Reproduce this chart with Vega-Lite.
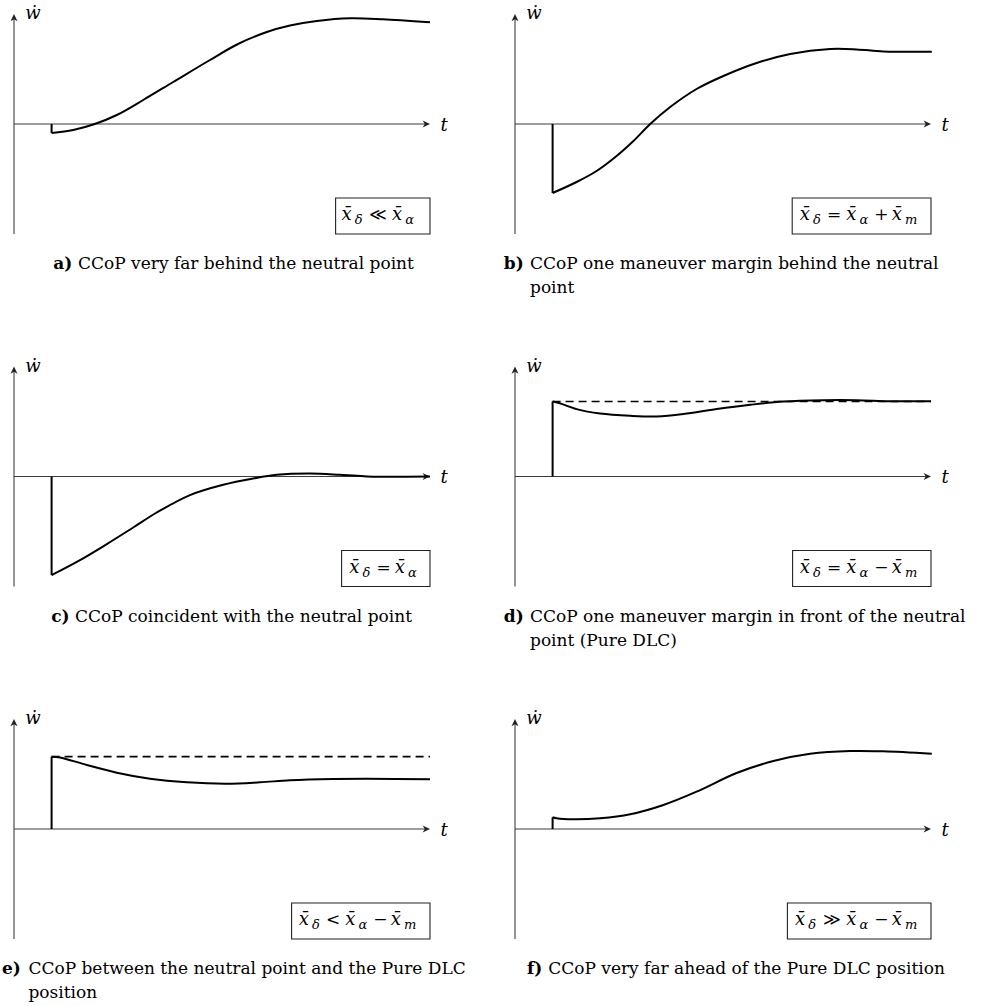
{
  "$schema": "https://vega.github.io/schema/vega-lite/v6.json",
  "padding": 0,
  "background": "white",
  "config": {"view": {"stroke": null}},
  "datasets": {
    "all": [
    {"panel":"a","kind":"axis","t":0,"t2":0,"w":-1.10,"w2":1.05},
    {"panel":"a","kind":"axis","t":0,"t2":10.3,"w":0,"w2":0},
    {"panel":"a","kind":"arrowR","t":10.225,"w":0},
    {"panel":"a","kind":"arrowU","t":0,"w":1.03},
    {"panel":"a","kind":"lab","t":0.28,"w":1.05,"text":"ẇ"},
    {"panel":"a","kind":"lab","t":10.66,"w":-0.065,"text":"t"},
    {"panel":"b","kind":"axis","t":0,"t2":0,"w":-1.10,"w2":1.05},
    {"panel":"b","kind":"axis","t":0,"t2":10.3,"w":0,"w2":0},
    {"panel":"b","kind":"arrowR","t":10.225,"w":0},
    {"panel":"b","kind":"arrowU","t":0,"w":1.03},
    {"panel":"b","kind":"lab","t":0.28,"w":1.05,"text":"ẇ"},
    {"panel":"b","kind":"lab","t":10.66,"w":-0.065,"text":"t"},
    {"panel":"c","kind":"axis","t":0,"t2":0,"w":-1.10,"w2":1.05},
    {"panel":"c","kind":"axis","t":0,"t2":10.3,"w":0,"w2":0},
    {"panel":"c","kind":"arrowR","t":10.225,"w":0},
    {"panel":"c","kind":"arrowU","t":0,"w":1.03},
    {"panel":"c","kind":"lab","t":0.28,"w":1.05,"text":"ẇ"},
    {"panel":"c","kind":"lab","t":10.66,"w":-0.065,"text":"t"},
    {"panel":"d","kind":"axis","t":0,"t2":0,"w":-1.10,"w2":1.05},
    {"panel":"d","kind":"axis","t":0,"t2":10.3,"w":0,"w2":0},
    {"panel":"d","kind":"arrowR","t":10.225,"w":0},
    {"panel":"d","kind":"arrowU","t":0,"w":1.03},
    {"panel":"d","kind":"lab","t":0.28,"w":1.05,"text":"ẇ"},
    {"panel":"d","kind":"lab","t":10.66,"w":-0.065,"text":"t"},
    {"panel":"e","kind":"axis","t":0,"t2":0,"w":-1.10,"w2":1.05},
    {"panel":"e","kind":"axis","t":0,"t2":10.3,"w":0,"w2":0},
    {"panel":"e","kind":"arrowR","t":10.225,"w":0},
    {"panel":"e","kind":"arrowU","t":0,"w":1.03},
    {"panel":"e","kind":"lab","t":0.28,"w":1.05,"text":"ẇ"},
    {"panel":"e","kind":"lab","t":10.66,"w":-0.065,"text":"t"},
    {"panel":"f","kind":"axis","t":0,"t2":0,"w":-1.10,"w2":1.05},
    {"panel":"f","kind":"axis","t":0,"t2":10.3,"w":0,"w2":0},
    {"panel":"f","kind":"arrowR","t":10.225,"w":0},
    {"panel":"f","kind":"arrowU","t":0,"w":1.03},
    {"panel":"f","kind":"lab","t":0.28,"w":1.05,"text":"ẇ"},
    {"panel":"f","kind":"lab","t":10.66,"w":-0.065,"text":"t"},

    {"panel":"a","kind":"jump","t":0.94,"w":0,"w2":-0.09},
    {"panel":"b","kind":"jump","t":0.94,"w":0,"w2":-0.69},
    {"panel":"c","kind":"jump","t":0.94,"w":0,"w2":-0.986},
    {"panel":"d","kind":"jump","t":0.94,"w":0,"w2":0.75},
    {"panel":"e","kind":"jump","t":0.94,"w":0,"w2":0.723},
    {"panel":"f","kind":"jump","t":0.94,"w":0,"w2":0.117},

    {"panel":"d","kind":"dash","t":0.94,"t2":10.4,"w":0.75},
    {"panel":"e","kind":"dash","t":0.94,"t2":10.4,"w":0.723},

    {"panel":"a","kind":"curve","i":1,"t":0.94,"w":-0.09},
    {"panel":"a","kind":"curve","i":2,"t":1.48,"w":-0.06},
    {"panel":"a","kind":"curve","i":3,"t":2.02,"w":0.0},
    {"panel":"a","kind":"curve","i":4,"t":2.57,"w":0.09},
    {"panel":"a","kind":"curve","i":5,"t":3.23,"w":0.24},
    {"panel":"a","kind":"curve","i":6,"t":3.98,"w":0.42},
    {"panel":"a","kind":"curve","i":7,"t":4.9,"w":0.64},
    {"panel":"a","kind":"curve","i":8,"t":5.6,"w":0.8},
    {"panel":"a","kind":"curve","i":9,"t":6.32,"w":0.92},
    {"panel":"a","kind":"curve","i":10,"t":6.9,"w":0.985},
    {"panel":"a","kind":"curve","i":11,"t":7.57,"w":1.03},
    {"panel":"a","kind":"curve","i":12,"t":8.4,"w":1.057},
    {"panel":"a","kind":"curve","i":13,"t":9.23,"w":1.047},
    {"panel":"a","kind":"curve","i":14,"t":10.4,"w":1.017},

    {"panel":"b","kind":"curve","i":1,"t":0.94,"w":-0.69},
    {"panel":"b","kind":"curve","i":2,"t":1.54,"w":-0.58},
    {"panel":"b","kind":"curve","i":3,"t":2.04,"w":-0.47},
    {"panel":"b","kind":"curve","i":4,"t":2.54,"w":-0.32},
    {"panel":"b","kind":"curve","i":5,"t":2.96,"w":-0.17},
    {"panel":"b","kind":"curve","i":6,"t":3.38,"w":0.0},
    {"panel":"b","kind":"curve","i":7,"t":3.88,"w":0.17},
    {"panel":"b","kind":"curve","i":8,"t":4.54,"w":0.35},
    {"panel":"b","kind":"curve","i":9,"t":5.21,"w":0.48},
    {"panel":"b","kind":"curve","i":10,"t":6.04,"w":0.61},
    {"panel":"b","kind":"curve","i":11,"t":6.88,"w":0.70},
    {"panel":"b","kind":"curve","i":12,"t":7.88,"w":0.75},
    {"panel":"b","kind":"curve","i":13,"t":8.54,"w":0.746},
    {"panel":"b","kind":"curve","i":14,"t":9.21,"w":0.726},
    {"panel":"b","kind":"curve","i":15,"t":10.42,"w":0.723},

    {"panel":"c","kind":"curve","i":1,"t":0.94,"w":-0.986},
    {"panel":"c","kind":"curve","i":2,"t":1.65,"w":-0.836},
    {"panel":"c","kind":"curve","i":3,"t":2.32,"w":-0.676},
    {"panel":"c","kind":"curve","i":4,"t":2.98,"w":-0.51},
    {"panel":"c","kind":"curve","i":5,"t":3.57,"w":-0.36},
    {"panel":"c","kind":"curve","i":6,"t":4.4,"w":-0.186},
    {"panel":"c","kind":"curve","i":7,"t":5.23,"w":-0.083},
    {"panel":"c","kind":"curve","i":8,"t":5.98,"w":-0.02},
    {"panel":"c","kind":"curve","i":9,"t":6.57,"w":0.017},
    {"panel":"c","kind":"curve","i":10,"t":7.4,"w":0.03},
    {"panel":"c","kind":"curve","i":11,"t":8.15,"w":0.017},
    {"panel":"c","kind":"curve","i":12,"t":8.82,"w":0.0},
    {"panel":"c","kind":"curve","i":13,"t":9.23,"w":-0.003},
    {"panel":"c","kind":"curve","i":14,"t":10.4,"w":0.0},

    {"panel":"d","kind":"curve","i":1,"t":0.94,"w":0.75},
    {"panel":"d","kind":"curve","i":2,"t":1.1,"w":0.735},
    {"panel":"d","kind":"curve","i":3,"t":1.54,"w":0.674},
    {"panel":"d","kind":"curve","i":4,"t":2.13,"w":0.63},
    {"panel":"d","kind":"curve","i":5,"t":2.88,"w":0.607},
    {"panel":"d","kind":"curve","i":6,"t":3.54,"w":0.60},
    {"panel":"d","kind":"curve","i":7,"t":4.21,"w":0.624},
    {"panel":"d","kind":"curve","i":8,"t":5.04,"w":0.674},
    {"panel":"d","kind":"curve","i":9,"t":5.88,"w":0.717},
    {"panel":"d","kind":"curve","i":10,"t":6.71,"w":0.75},
    {"panel":"d","kind":"curve","i":11,"t":7.71,"w":0.763},
    {"panel":"d","kind":"curve","i":12,"t":8.54,"w":0.763},
    {"panel":"d","kind":"curve","i":13,"t":9.38,"w":0.753},
    {"panel":"d","kind":"curve","i":14,"t":10.4,"w":0.753},

    {"panel":"e","kind":"curve","i":1,"t":0.94,"w":0.723},
    {"panel":"e","kind":"curve","i":2,"t":1.15,"w":0.716},
    {"panel":"e","kind":"curve","i":3,"t":1.82,"w":0.64},
    {"panel":"e","kind":"curve","i":4,"t":2.57,"w":0.563},
    {"panel":"e","kind":"curve","i":5,"t":3.4,"w":0.503},
    {"panel":"e","kind":"curve","i":6,"t":4.32,"w":0.467},
    {"panel":"e","kind":"curve","i":7,"t":5.32,"w":0.453},
    {"panel":"e","kind":"curve","i":8,"t":6.15,"w":0.467},
    {"panel":"e","kind":"curve","i":9,"t":6.9,"w":0.487},
    {"panel":"e","kind":"curve","i":10,"t":7.98,"w":0.50},
    {"panel":"e","kind":"curve","i":11,"t":8.82,"w":0.503},
    {"panel":"e","kind":"curve","i":12,"t":10.4,"w":0.497},

    {"panel":"f","kind":"curve","i":1,"t":0.94,"w":0.117},
    {"panel":"f","kind":"curve","i":2,"t":1.04,"w":0.107},
    {"panel":"f","kind":"curve","i":3,"t":1.46,"w":0.097},
    {"panel":"f","kind":"curve","i":4,"t":2.13,"w":0.107},
    {"panel":"f","kind":"curve","i":5,"t":2.88,"w":0.147},
    {"panel":"f","kind":"curve","i":6,"t":3.71,"w":0.24},
    {"panel":"f","kind":"curve","i":7,"t":4.54,"w":0.373},
    {"panel":"f","kind":"curve","i":8,"t":5.54,"w":0.56},
    {"panel":"f","kind":"curve","i":9,"t":6.46,"w":0.68},
    {"panel":"f","kind":"curve","i":10,"t":7.38,"w":0.752},
    {"panel":"f","kind":"curve","i":11,"t":8.38,"w":0.78},
    {"panel":"f","kind":"curve","i":12,"t":9.21,"w":0.777},
    {"panel":"f","kind":"curve","i":13,"t":10.42,"w":0.753},

    {"panel":"a","kind":"box","t":8.04,"t2":10.4,"w":-0.74,"w2":-1.10},
    {"panel":"b","kind":"box","t":6.93,"t2":10.4,"w":-0.74,"w2":-1.10},
    {"panel":"c","kind":"box","t":8.19,"t2":10.4,"w":-0.74,"w2":-1.10},
    {"panel":"d","kind":"box","t":6.94,"t2":10.4,"w":-0.74,"w2":-1.10},
    {"panel":"e","kind":"box","t":6.94,"t2":10.4,"w":-0.74,"w2":-1.10},
    {"panel":"f","kind":"box","t":6.81,"t2":10.4,"w":-0.74,"w2":-1.10},

    {"panel":"a","kind":"mi","t":8.19,"w":-0.96,"text":"x\u0304"},
    {"panel":"a","kind":"ms","t":8.52,"w":-1.0,"text":"δ"},
    {"panel":"a","kind":"mo","t":8.88,"w":-0.96,"text":"≪"},
    {"panel":"a","kind":"mi","t":9.45,"w":-0.96,"text":"x\u0304"},
    {"panel":"a","kind":"ms","t":9.78,"w":-1.0,"text":"α"},

    {"panel":"b","kind":"mi","t":7.12,"w":-0.96,"text":"x\u0304"},
    {"panel":"b","kind":"ms","t":7.45,"w":-1.0,"text":"δ"},
    {"panel":"b","kind":"mo","t":7.8,"w":-0.96,"text":"="},
    {"panel":"b","kind":"mi","t":8.28,"w":-0.96,"text":"x\u0304"},
    {"panel":"b","kind":"ms","t":8.61,"w":-1.0,"text":"α"},
    {"panel":"b","kind":"mo","t":8.98,"w":-0.96,"text":"+"},
    {"panel":"b","kind":"mi","t":9.42,"w":-0.96,"text":"x\u0304"},
    {"panel":"b","kind":"ms","t":9.75,"w":-1.0,"text":"m"},

    {"panel":"c","kind":"mi","t":8.38,"w":-0.96,"text":"x\u0304"},
    {"panel":"c","kind":"ms","t":8.71,"w":-1.0,"text":"δ"},
    {"panel":"c","kind":"mo","t":9.06,"w":-0.96,"text":"="},
    {"panel":"c","kind":"mi","t":9.52,"w":-0.96,"text":"x\u0304"},
    {"panel":"c","kind":"ms","t":9.85,"w":-1.0,"text":"α"},

    {"panel":"d","kind":"mi","t":7.12,"w":-0.96,"text":"x\u0304"},
    {"panel":"d","kind":"ms","t":7.45,"w":-1.0,"text":"δ"},
    {"panel":"d","kind":"mo","t":7.8,"w":-0.96,"text":"="},
    {"panel":"d","kind":"mi","t":8.28,"w":-0.96,"text":"x\u0304"},
    {"panel":"d","kind":"ms","t":8.61,"w":-1.0,"text":"α"},
    {"panel":"d","kind":"mo","t":8.98,"w":-0.96,"text":"−"},
    {"panel":"d","kind":"mi","t":9.42,"w":-0.96,"text":"x\u0304"},
    {"panel":"d","kind":"ms","t":9.75,"w":-1.0,"text":"m"},

    {"panel":"e","kind":"mi","t":7.12,"w":-0.96,"text":"x\u0304"},
    {"panel":"e","kind":"ms","t":7.45,"w":-1.0,"text":"δ"},
    {"panel":"e","kind":"mo","t":7.8,"w":-0.96,"text":"<"},
    {"panel":"e","kind":"mi","t":8.28,"w":-0.96,"text":"x\u0304"},
    {"panel":"e","kind":"ms","t":8.61,"w":-1.0,"text":"α"},
    {"panel":"e","kind":"mo","t":8.98,"w":-0.96,"text":"−"},
    {"panel":"e","kind":"mi","t":9.42,"w":-0.96,"text":"x\u0304"},
    {"panel":"e","kind":"ms","t":9.75,"w":-1.0,"text":"m"},

    {"panel":"f","kind":"mi","t":7.0,"w":-0.96,"text":"x\u0304"},
    {"panel":"f","kind":"ms","t":7.33,"w":-1.0,"text":"δ"},
    {"panel":"f","kind":"mo","t":7.7,"w":-0.96,"text":"≫"},
    {"panel":"f","kind":"mi","t":8.28,"w":-0.96,"text":"x\u0304"},
    {"panel":"f","kind":"ms","t":8.61,"w":-1.0,"text":"α"},
    {"panel":"f","kind":"mo","t":8.98,"w":-0.96,"text":"−"},
    {"panel":"f","kind":"mi","t":9.42,"w":-0.96,"text":"x\u0304"},
    {"panel":"f","kind":"ms","t":9.75,"w":-1.0,"text":"m"},

    {"panel":"a","kind":"capb","t":0.98,"w":-1.45,"text":"a)"},
    {"panel":"a","kind":"cap","t":1.6,"w":-1.45,"text":"CCoP very far behind the neutral point"},
    {"panel":"b","kind":"capb","t":-0.28,"w":-1.45,"text":"b)"},
    {"panel":"b","kind":"cap","t":0.375,"w":-1.45,"text":"CCoP one maneuver margin behind the neutral"},
    {"panel":"b","kind":"cap","t":0.375,"w":-1.69,"text":"point"},
    {"panel":"c","kind":"capb","t":0.93,"w":-1.45,"text":"c)"},
    {"panel":"c","kind":"cap","t":1.525,"w":-1.45,"text":"CCoP coincident with the neutral point"},
    {"panel":"d","kind":"capb","t":-0.28,"w":-1.45,"text":"d)"},
    {"panel":"d","kind":"cap","t":0.375,"w":-1.45,"text":"CCoP one maneuver margin in front of the neutral"},
    {"panel":"d","kind":"cap","t":0.375,"w":-1.69,"text":"point (Pure DLC)"},
    {"panel":"e","kind":"capb","t":-0.3,"w":-1.45,"text":"e)"},
    {"panel":"e","kind":"cap","t":0.36,"w":-1.45,"text":"CCoP between the neutral point and the Pure DLC"},
    {"panel":"e","kind":"cap","t":0.36,"w":-1.69,"text":"position"},
    {"panel":"f","kind":"capb","t":0.3,"w":-1.45,"text":"f)"},
    {"panel":"f","kind":"cap","t":0.83,"w":-1.45,"text":"CCoP very far ahead of the Pure DLC position"}
    ]
  },
  "data": {"name": "all"},
  "columns": 2,
  "spacing": {"row": 52.5, "column": 21},
  "concat": [
    {"transform": [{"filter": "datum.panel === 'a'"}], "width": 480, "height": 300,
     "encoding": {
      "x": {"field": "t", "type": "quantitative", "axis": null, "scale": {"domain": [-0.35, 11.65], "nice": false, "zero": false}},
      "y": {"field": "w", "type": "quantitative", "axis": null, "scale": {"domain": [-1.76, 1.24], "nice": false, "zero": false}}},
     "layer": [
      {"transform": [{"filter": "datum.kind === 'axis'"}], "mark": {"type": "rule", "color": "#3c3c3c", "strokeWidth": 1.1}, "encoding": {"x2": {"field": "t2"}, "y2": {"field": "w2"}}},
      {"transform": [{"filter": "datum.kind === 'arrowR'"}], "mark": {"type": "point", "shape": "M1,0 L-0.05,-0.5 L0.25,0 L-0.05,0.5 Z", "size": 196, "filled": true, "color": "#222", "opacity": 1, "strokeWidth": 0}},
      {"transform": [{"filter": "datum.kind === 'arrowU'"}], "mark": {"type": "point", "shape": "M0,-1 L-0.5,0.05 L0,-0.25 L0.5,0.05 Z", "size": 196, "filled": true, "color": "#222", "opacity": 1, "strokeWidth": 0}},
      {"transform": [{"filter": "datum.kind === 'dash'"}], "mark": {"type": "rule", "color": "black", "strokeWidth": 1.7, "strokeDash": [8, 5]}, "encoding": {"x2": {"field": "t2"}}},
      {"transform": [{"filter": "datum.kind === 'jump'"}], "mark": {"type": "rule", "color": "black", "strokeWidth": 2}, "encoding": {"y2": {"field": "w2"}}},
      {"transform": [{"filter": "datum.kind === 'curve'"}], "mark": {"type": "line", "color": "black", "strokeWidth": 2, "interpolate": "catmull-rom"}, "encoding": {"order": {"field": "i", "type": "quantitative"}}},
      {"transform": [{"filter": "datum.kind === 'box'"}], "mark": {"type": "rect", "fill": "white", "stroke": "#222", "strokeWidth": 1.1}, "encoding": {"x2": {"field": "t2"}, "y2": {"field": "w2"}}},
      {"transform": [{"filter": "datum.kind === 'mi'"}], "mark": {"type": "text", "align": "left", "baseline": "alphabetic", "font": "DejaVu Serif", "fontStyle": "italic", "fontSize": 18, "color": "black"}, "encoding": {"text": {"field": "text"}}},
      {"transform": [{"filter": "datum.kind === 'ms'"}], "mark": {"type": "text", "align": "left", "baseline": "alphabetic", "font": "DejaVu Serif", "fontStyle": "italic", "fontSize": 13, "color": "black"}, "encoding": {"text": {"field": "text"}}},
      {"transform": [{"filter": "datum.kind === 'mo'"}], "mark": {"type": "text", "align": "left", "baseline": "alphabetic", "font": "DejaVu Serif", "fontSize": 17, "color": "black"}, "encoding": {"text": {"field": "text"}}},
      {"transform": [{"filter": "datum.kind === 'lab'"}], "mark": {"type": "text", "align": "left", "baseline": "alphabetic", "font": "DejaVu Serif", "fontStyle": "italic", "fontSize": 18, "color": "black"}, "encoding": {"text": {"field": "text"}}},
      {"transform": [{"filter": "datum.kind === 'capb'"}], "mark": {"type": "text", "align": "left", "baseline": "alphabetic", "font": "DejaVu Serif", "fontWeight": "bold", "fontSize": 17, "color": "black"}, "encoding": {"text": {"field": "text"}}},
      {"transform": [{"filter": "datum.kind === 'cap'"}], "mark": {"type": "text", "align": "left", "baseline": "alphabetic", "font": "DejaVu Serif", "fontSize": 17, "color": "black"}, "encoding": {"text": {"field": "text"}}}
     ]},
    {"transform": [{"filter": "datum.panel === 'b'"}], "width": 480, "height": 300,
     "encoding": {
      "x": {"field": "t", "type": "quantitative", "axis": null, "scale": {"domain": [-0.35, 11.65], "nice": false, "zero": false}},
      "y": {"field": "w", "type": "quantitative", "axis": null, "scale": {"domain": [-1.76, 1.24], "nice": false, "zero": false}}},
     "layer": [
      {"transform": [{"filter": "datum.kind === 'axis'"}], "mark": {"type": "rule", "color": "#3c3c3c", "strokeWidth": 1.1}, "encoding": {"x2": {"field": "t2"}, "y2": {"field": "w2"}}},
      {"transform": [{"filter": "datum.kind === 'arrowR'"}], "mark": {"type": "point", "shape": "M1,0 L-0.05,-0.5 L0.25,0 L-0.05,0.5 Z", "size": 196, "filled": true, "color": "#222", "opacity": 1, "strokeWidth": 0}},
      {"transform": [{"filter": "datum.kind === 'arrowU'"}], "mark": {"type": "point", "shape": "M0,-1 L-0.5,0.05 L0,-0.25 L0.5,0.05 Z", "size": 196, "filled": true, "color": "#222", "opacity": 1, "strokeWidth": 0}},
      {"transform": [{"filter": "datum.kind === 'dash'"}], "mark": {"type": "rule", "color": "black", "strokeWidth": 1.7, "strokeDash": [8, 5]}, "encoding": {"x2": {"field": "t2"}}},
      {"transform": [{"filter": "datum.kind === 'jump'"}], "mark": {"type": "rule", "color": "black", "strokeWidth": 2}, "encoding": {"y2": {"field": "w2"}}},
      {"transform": [{"filter": "datum.kind === 'curve'"}], "mark": {"type": "line", "color": "black", "strokeWidth": 2, "interpolate": "catmull-rom"}, "encoding": {"order": {"field": "i", "type": "quantitative"}}},
      {"transform": [{"filter": "datum.kind === 'box'"}], "mark": {"type": "rect", "fill": "white", "stroke": "#222", "strokeWidth": 1.1}, "encoding": {"x2": {"field": "t2"}, "y2": {"field": "w2"}}},
      {"transform": [{"filter": "datum.kind === 'mi'"}], "mark": {"type": "text", "align": "left", "baseline": "alphabetic", "font": "DejaVu Serif", "fontStyle": "italic", "fontSize": 18, "color": "black"}, "encoding": {"text": {"field": "text"}}},
      {"transform": [{"filter": "datum.kind === 'ms'"}], "mark": {"type": "text", "align": "left", "baseline": "alphabetic", "font": "DejaVu Serif", "fontStyle": "italic", "fontSize": 13, "color": "black"}, "encoding": {"text": {"field": "text"}}},
      {"transform": [{"filter": "datum.kind === 'mo'"}], "mark": {"type": "text", "align": "left", "baseline": "alphabetic", "font": "DejaVu Serif", "fontSize": 17, "color": "black"}, "encoding": {"text": {"field": "text"}}},
      {"transform": [{"filter": "datum.kind === 'lab'"}], "mark": {"type": "text", "align": "left", "baseline": "alphabetic", "font": "DejaVu Serif", "fontStyle": "italic", "fontSize": 18, "color": "black"}, "encoding": {"text": {"field": "text"}}},
      {"transform": [{"filter": "datum.kind === 'capb'"}], "mark": {"type": "text", "align": "left", "baseline": "alphabetic", "font": "DejaVu Serif", "fontWeight": "bold", "fontSize": 17, "color": "black"}, "encoding": {"text": {"field": "text"}}},
      {"transform": [{"filter": "datum.kind === 'cap'"}], "mark": {"type": "text", "align": "left", "baseline": "alphabetic", "font": "DejaVu Serif", "fontSize": 17, "color": "black"}, "encoding": {"text": {"field": "text"}}}
     ]},
    {"transform": [{"filter": "datum.panel === 'c'"}], "width": 480, "height": 300,
     "encoding": {
      "x": {"field": "t", "type": "quantitative", "axis": null, "scale": {"domain": [-0.35, 11.65], "nice": false, "zero": false}},
      "y": {"field": "w", "type": "quantitative", "axis": null, "scale": {"domain": [-1.76, 1.24], "nice": false, "zero": false}}},
     "layer": [
      {"transform": [{"filter": "datum.kind === 'axis'"}], "mark": {"type": "rule", "color": "#3c3c3c", "strokeWidth": 1.1}, "encoding": {"x2": {"field": "t2"}, "y2": {"field": "w2"}}},
      {"transform": [{"filter": "datum.kind === 'arrowR'"}], "mark": {"type": "point", "shape": "M1,0 L-0.05,-0.5 L0.25,0 L-0.05,0.5 Z", "size": 196, "filled": true, "color": "#222", "opacity": 1, "strokeWidth": 0}},
      {"transform": [{"filter": "datum.kind === 'arrowU'"}], "mark": {"type": "point", "shape": "M0,-1 L-0.5,0.05 L0,-0.25 L0.5,0.05 Z", "size": 196, "filled": true, "color": "#222", "opacity": 1, "strokeWidth": 0}},
      {"transform": [{"filter": "datum.kind === 'dash'"}], "mark": {"type": "rule", "color": "black", "strokeWidth": 1.7, "strokeDash": [8, 5]}, "encoding": {"x2": {"field": "t2"}}},
      {"transform": [{"filter": "datum.kind === 'jump'"}], "mark": {"type": "rule", "color": "black", "strokeWidth": 2}, "encoding": {"y2": {"field": "w2"}}},
      {"transform": [{"filter": "datum.kind === 'curve'"}], "mark": {"type": "line", "color": "black", "strokeWidth": 2, "interpolate": "catmull-rom"}, "encoding": {"order": {"field": "i", "type": "quantitative"}}},
      {"transform": [{"filter": "datum.kind === 'box'"}], "mark": {"type": "rect", "fill": "white", "stroke": "#222", "strokeWidth": 1.1}, "encoding": {"x2": {"field": "t2"}, "y2": {"field": "w2"}}},
      {"transform": [{"filter": "datum.kind === 'mi'"}], "mark": {"type": "text", "align": "left", "baseline": "alphabetic", "font": "DejaVu Serif", "fontStyle": "italic", "fontSize": 18, "color": "black"}, "encoding": {"text": {"field": "text"}}},
      {"transform": [{"filter": "datum.kind === 'ms'"}], "mark": {"type": "text", "align": "left", "baseline": "alphabetic", "font": "DejaVu Serif", "fontStyle": "italic", "fontSize": 13, "color": "black"}, "encoding": {"text": {"field": "text"}}},
      {"transform": [{"filter": "datum.kind === 'mo'"}], "mark": {"type": "text", "align": "left", "baseline": "alphabetic", "font": "DejaVu Serif", "fontSize": 17, "color": "black"}, "encoding": {"text": {"field": "text"}}},
      {"transform": [{"filter": "datum.kind === 'lab'"}], "mark": {"type": "text", "align": "left", "baseline": "alphabetic", "font": "DejaVu Serif", "fontStyle": "italic", "fontSize": 18, "color": "black"}, "encoding": {"text": {"field": "text"}}},
      {"transform": [{"filter": "datum.kind === 'capb'"}], "mark": {"type": "text", "align": "left", "baseline": "alphabetic", "font": "DejaVu Serif", "fontWeight": "bold", "fontSize": 17, "color": "black"}, "encoding": {"text": {"field": "text"}}},
      {"transform": [{"filter": "datum.kind === 'cap'"}], "mark": {"type": "text", "align": "left", "baseline": "alphabetic", "font": "DejaVu Serif", "fontSize": 17, "color": "black"}, "encoding": {"text": {"field": "text"}}}
     ]},
    {"transform": [{"filter": "datum.panel === 'd'"}], "width": 480, "height": 300,
     "encoding": {
      "x": {"field": "t", "type": "quantitative", "axis": null, "scale": {"domain": [-0.35, 11.65], "nice": false, "zero": false}},
      "y": {"field": "w", "type": "quantitative", "axis": null, "scale": {"domain": [-1.76, 1.24], "nice": false, "zero": false}}},
     "layer": [
      {"transform": [{"filter": "datum.kind === 'axis'"}], "mark": {"type": "rule", "color": "#3c3c3c", "strokeWidth": 1.1}, "encoding": {"x2": {"field": "t2"}, "y2": {"field": "w2"}}},
      {"transform": [{"filter": "datum.kind === 'arrowR'"}], "mark": {"type": "point", "shape": "M1,0 L-0.05,-0.5 L0.25,0 L-0.05,0.5 Z", "size": 196, "filled": true, "color": "#222", "opacity": 1, "strokeWidth": 0}},
      {"transform": [{"filter": "datum.kind === 'arrowU'"}], "mark": {"type": "point", "shape": "M0,-1 L-0.5,0.05 L0,-0.25 L0.5,0.05 Z", "size": 196, "filled": true, "color": "#222", "opacity": 1, "strokeWidth": 0}},
      {"transform": [{"filter": "datum.kind === 'dash'"}], "mark": {"type": "rule", "color": "black", "strokeWidth": 1.7, "strokeDash": [8, 5]}, "encoding": {"x2": {"field": "t2"}}},
      {"transform": [{"filter": "datum.kind === 'jump'"}], "mark": {"type": "rule", "color": "black", "strokeWidth": 2}, "encoding": {"y2": {"field": "w2"}}},
      {"transform": [{"filter": "datum.kind === 'curve'"}], "mark": {"type": "line", "color": "black", "strokeWidth": 2, "interpolate": "catmull-rom"}, "encoding": {"order": {"field": "i", "type": "quantitative"}}},
      {"transform": [{"filter": "datum.kind === 'box'"}], "mark": {"type": "rect", "fill": "white", "stroke": "#222", "strokeWidth": 1.1}, "encoding": {"x2": {"field": "t2"}, "y2": {"field": "w2"}}},
      {"transform": [{"filter": "datum.kind === 'mi'"}], "mark": {"type": "text", "align": "left", "baseline": "alphabetic", "font": "DejaVu Serif", "fontStyle": "italic", "fontSize": 18, "color": "black"}, "encoding": {"text": {"field": "text"}}},
      {"transform": [{"filter": "datum.kind === 'ms'"}], "mark": {"type": "text", "align": "left", "baseline": "alphabetic", "font": "DejaVu Serif", "fontStyle": "italic", "fontSize": 13, "color": "black"}, "encoding": {"text": {"field": "text"}}},
      {"transform": [{"filter": "datum.kind === 'mo'"}], "mark": {"type": "text", "align": "left", "baseline": "alphabetic", "font": "DejaVu Serif", "fontSize": 17, "color": "black"}, "encoding": {"text": {"field": "text"}}},
      {"transform": [{"filter": "datum.kind === 'lab'"}], "mark": {"type": "text", "align": "left", "baseline": "alphabetic", "font": "DejaVu Serif", "fontStyle": "italic", "fontSize": 18, "color": "black"}, "encoding": {"text": {"field": "text"}}},
      {"transform": [{"filter": "datum.kind === 'capb'"}], "mark": {"type": "text", "align": "left", "baseline": "alphabetic", "font": "DejaVu Serif", "fontWeight": "bold", "fontSize": 17, "color": "black"}, "encoding": {"text": {"field": "text"}}},
      {"transform": [{"filter": "datum.kind === 'cap'"}], "mark": {"type": "text", "align": "left", "baseline": "alphabetic", "font": "DejaVu Serif", "fontSize": 17, "color": "black"}, "encoding": {"text": {"field": "text"}}}
     ]},
    {"transform": [{"filter": "datum.panel === 'e'"}], "width": 480, "height": 300,
     "encoding": {
      "x": {"field": "t", "type": "quantitative", "axis": null, "scale": {"domain": [-0.35, 11.65], "nice": false, "zero": false}},
      "y": {"field": "w", "type": "quantitative", "axis": null, "scale": {"domain": [-1.76, 1.24], "nice": false, "zero": false}}},
     "layer": [
      {"transform": [{"filter": "datum.kind === 'axis'"}], "mark": {"type": "rule", "color": "#3c3c3c", "strokeWidth": 1.1}, "encoding": {"x2": {"field": "t2"}, "y2": {"field": "w2"}}},
      {"transform": [{"filter": "datum.kind === 'arrowR'"}], "mark": {"type": "point", "shape": "M1,0 L-0.05,-0.5 L0.25,0 L-0.05,0.5 Z", "size": 196, "filled": true, "color": "#222", "opacity": 1, "strokeWidth": 0}},
      {"transform": [{"filter": "datum.kind === 'arrowU'"}], "mark": {"type": "point", "shape": "M0,-1 L-0.5,0.05 L0,-0.25 L0.5,0.05 Z", "size": 196, "filled": true, "color": "#222", "opacity": 1, "strokeWidth": 0}},
      {"transform": [{"filter": "datum.kind === 'dash'"}], "mark": {"type": "rule", "color": "black", "strokeWidth": 1.7, "strokeDash": [8, 5]}, "encoding": {"x2": {"field": "t2"}}},
      {"transform": [{"filter": "datum.kind === 'jump'"}], "mark": {"type": "rule", "color": "black", "strokeWidth": 2}, "encoding": {"y2": {"field": "w2"}}},
      {"transform": [{"filter": "datum.kind === 'curve'"}], "mark": {"type": "line", "color": "black", "strokeWidth": 2, "interpolate": "catmull-rom"}, "encoding": {"order": {"field": "i", "type": "quantitative"}}},
      {"transform": [{"filter": "datum.kind === 'box'"}], "mark": {"type": "rect", "fill": "white", "stroke": "#222", "strokeWidth": 1.1}, "encoding": {"x2": {"field": "t2"}, "y2": {"field": "w2"}}},
      {"transform": [{"filter": "datum.kind === 'mi'"}], "mark": {"type": "text", "align": "left", "baseline": "alphabetic", "font": "DejaVu Serif", "fontStyle": "italic", "fontSize": 18, "color": "black"}, "encoding": {"text": {"field": "text"}}},
      {"transform": [{"filter": "datum.kind === 'ms'"}], "mark": {"type": "text", "align": "left", "baseline": "alphabetic", "font": "DejaVu Serif", "fontStyle": "italic", "fontSize": 13, "color": "black"}, "encoding": {"text": {"field": "text"}}},
      {"transform": [{"filter": "datum.kind === 'mo'"}], "mark": {"type": "text", "align": "left", "baseline": "alphabetic", "font": "DejaVu Serif", "fontSize": 17, "color": "black"}, "encoding": {"text": {"field": "text"}}},
      {"transform": [{"filter": "datum.kind === 'lab'"}], "mark": {"type": "text", "align": "left", "baseline": "alphabetic", "font": "DejaVu Serif", "fontStyle": "italic", "fontSize": 18, "color": "black"}, "encoding": {"text": {"field": "text"}}},
      {"transform": [{"filter": "datum.kind === 'capb'"}], "mark": {"type": "text", "align": "left", "baseline": "alphabetic", "font": "DejaVu Serif", "fontWeight": "bold", "fontSize": 17, "color": "black"}, "encoding": {"text": {"field": "text"}}},
      {"transform": [{"filter": "datum.kind === 'cap'"}], "mark": {"type": "text", "align": "left", "baseline": "alphabetic", "font": "DejaVu Serif", "fontSize": 17, "color": "black"}, "encoding": {"text": {"field": "text"}}}
     ]},
    {"transform": [{"filter": "datum.panel === 'f'"}], "width": 480, "height": 300,
     "encoding": {
      "x": {"field": "t", "type": "quantitative", "axis": null, "scale": {"domain": [-0.35, 11.65], "nice": false, "zero": false}},
      "y": {"field": "w", "type": "quantitative", "axis": null, "scale": {"domain": [-1.76, 1.24], "nice": false, "zero": false}}},
     "layer": [
      {"transform": [{"filter": "datum.kind === 'axis'"}], "mark": {"type": "rule", "color": "#3c3c3c", "strokeWidth": 1.1}, "encoding": {"x2": {"field": "t2"}, "y2": {"field": "w2"}}},
      {"transform": [{"filter": "datum.kind === 'arrowR'"}], "mark": {"type": "point", "shape": "M1,0 L-0.05,-0.5 L0.25,0 L-0.05,0.5 Z", "size": 196, "filled": true, "color": "#222", "opacity": 1, "strokeWidth": 0}},
      {"transform": [{"filter": "datum.kind === 'arrowU'"}], "mark": {"type": "point", "shape": "M0,-1 L-0.5,0.05 L0,-0.25 L0.5,0.05 Z", "size": 196, "filled": true, "color": "#222", "opacity": 1, "strokeWidth": 0}},
      {"transform": [{"filter": "datum.kind === 'dash'"}], "mark": {"type": "rule", "color": "black", "strokeWidth": 1.7, "strokeDash": [8, 5]}, "encoding": {"x2": {"field": "t2"}}},
      {"transform": [{"filter": "datum.kind === 'jump'"}], "mark": {"type": "rule", "color": "black", "strokeWidth": 2}, "encoding": {"y2": {"field": "w2"}}},
      {"transform": [{"filter": "datum.kind === 'curve'"}], "mark": {"type": "line", "color": "black", "strokeWidth": 2, "interpolate": "catmull-rom"}, "encoding": {"order": {"field": "i", "type": "quantitative"}}},
      {"transform": [{"filter": "datum.kind === 'box'"}], "mark": {"type": "rect", "fill": "white", "stroke": "#222", "strokeWidth": 1.1}, "encoding": {"x2": {"field": "t2"}, "y2": {"field": "w2"}}},
      {"transform": [{"filter": "datum.kind === 'mi'"}], "mark": {"type": "text", "align": "left", "baseline": "alphabetic", "font": "DejaVu Serif", "fontStyle": "italic", "fontSize": 18, "color": "black"}, "encoding": {"text": {"field": "text"}}},
      {"transform": [{"filter": "datum.kind === 'ms'"}], "mark": {"type": "text", "align": "left", "baseline": "alphabetic", "font": "DejaVu Serif", "fontStyle": "italic", "fontSize": 13, "color": "black"}, "encoding": {"text": {"field": "text"}}},
      {"transform": [{"filter": "datum.kind === 'mo'"}], "mark": {"type": "text", "align": "left", "baseline": "alphabetic", "font": "DejaVu Serif", "fontSize": 17, "color": "black"}, "encoding": {"text": {"field": "text"}}},
      {"transform": [{"filter": "datum.kind === 'lab'"}], "mark": {"type": "text", "align": "left", "baseline": "alphabetic", "font": "DejaVu Serif", "fontStyle": "italic", "fontSize": 18, "color": "black"}, "encoding": {"text": {"field": "text"}}},
      {"transform": [{"filter": "datum.kind === 'capb'"}], "mark": {"type": "text", "align": "left", "baseline": "alphabetic", "font": "DejaVu Serif", "fontWeight": "bold", "fontSize": 17, "color": "black"}, "encoding": {"text": {"field": "text"}}},
      {"transform": [{"filter": "datum.kind === 'cap'"}], "mark": {"type": "text", "align": "left", "baseline": "alphabetic", "font": "DejaVu Serif", "fontSize": 17, "color": "black"}, "encoding": {"text": {"field": "text"}}}
     ]}
  ]
}
